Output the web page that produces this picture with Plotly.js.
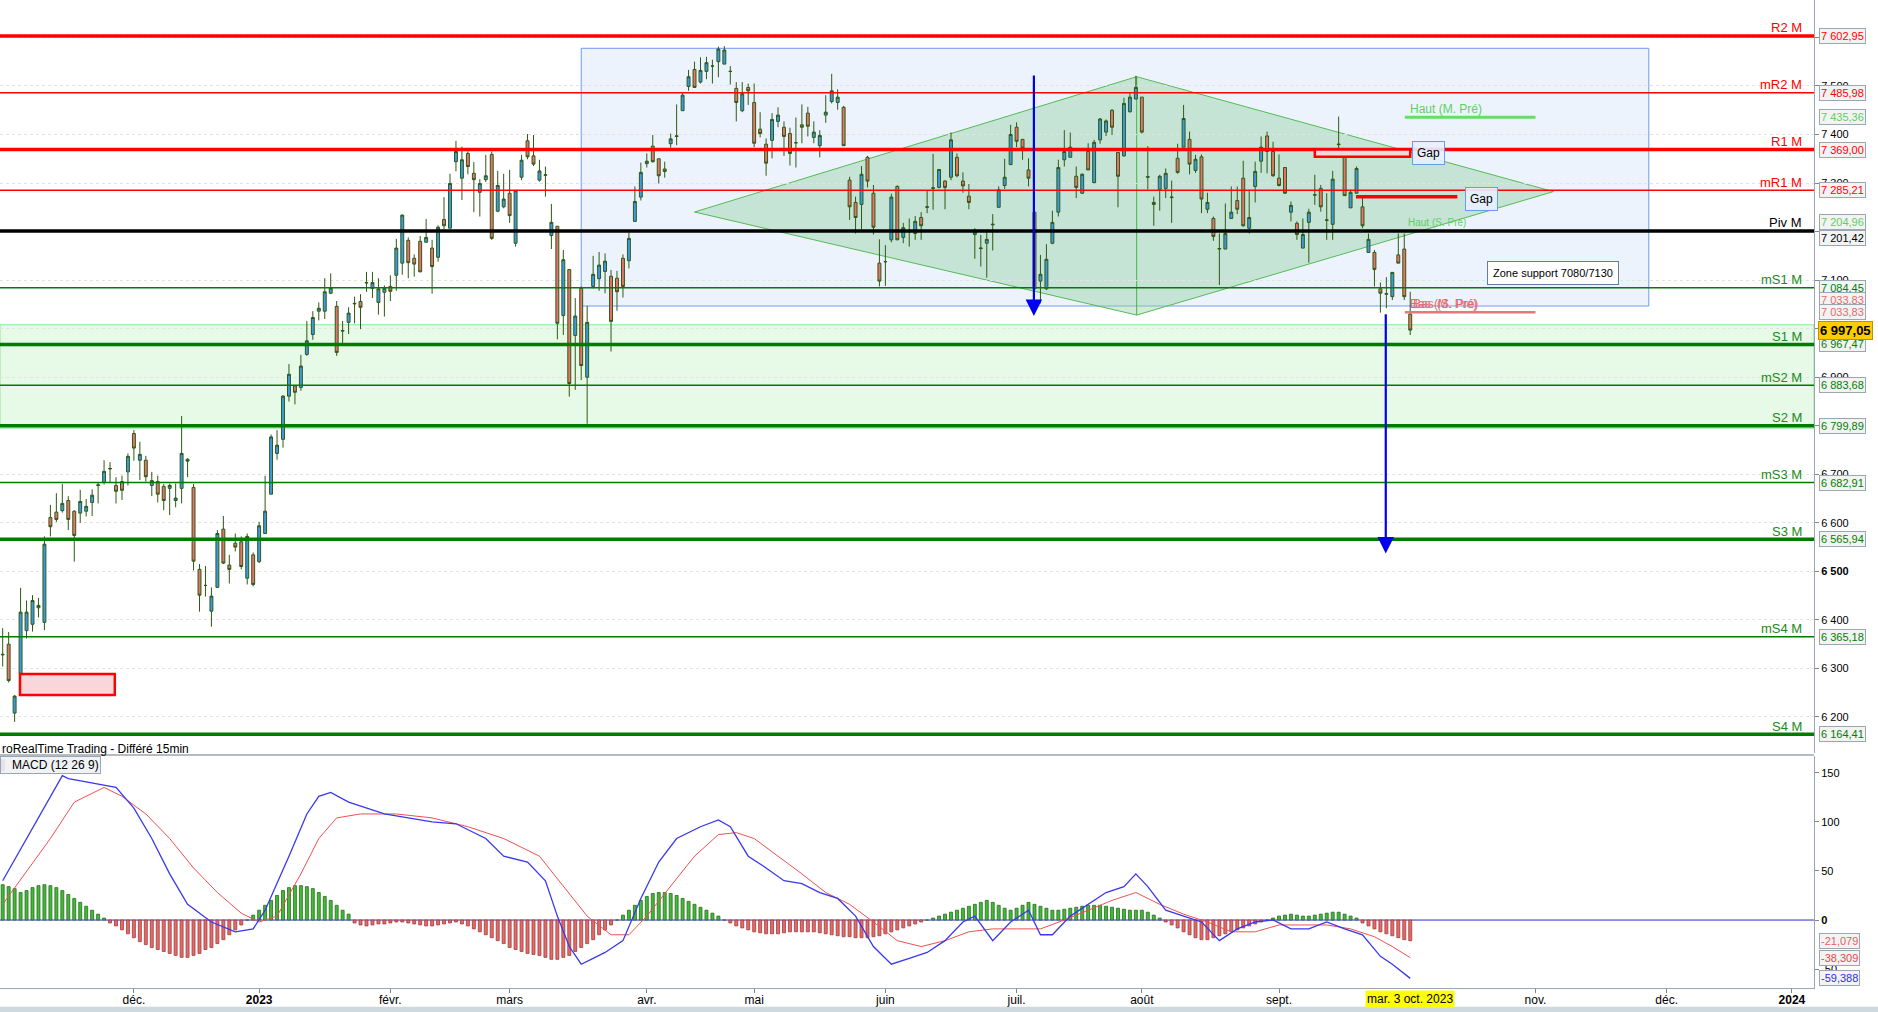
<!DOCTYPE html>
<html><head><meta charset="utf-8">
<script src="https://cdn.plot.ly/plotly-3.0.1.min.js"></script>
<style>html,body{margin:0;padding:0;background:#fff;}#chart{width:1878px;height:1012px;}</style>
</head><body><div id="chart"></div>
<script>
// ---------- DATA ----------
const holidays = ['2022-12-26','2023-04-07','2023-04-10','2023-05-01'];

const openP = [6328,6350,6208,6290,6378,6391,6425,6395,6611,6622,
6625,6646,6624,6620,6624,6642,6677,6683,6711,6677,
6685,6705,6784,6729,6729,6677,6685,6675,6671,6646,
6671,6727,6673,6504,6471,6418,6467,6587,6513,6558,
6561,6486,6534,6520,6578,6659,6743,6772,6861,6882,
6879,6947,6988,7036,7036,7073,7046,6995,7013,7051,
7056,7094,7083,7054,7075,7087,7110,7135,7182,7145,
7180,7178,7166,7147,7225,7207,7344,7310,7361,7320,
7281,7307,7359,7242,7251,7279,7176,7312,7387,7356,
7306,7316,7192,7211,7027,7122,6986,7083,6900,7087,
7103,7118,7108,7104,7145,7140,7221,7271,7340,7376,
7350,7329,7381,7396,7449,7499,7534,7508,7530,7541,
7550,7545,7530,7495,7449,7497,7466,7411,7380,7388,
7427,7415,7402,7383,7420,7444,7394,7377,7440,7468,
7466,7456,7306,7260,7256,7353,7279,7135,7138,7183,
7293,7188,7200,7196,7229,7250,7289,7291,7304,7312,
7353,7304,7273,7194,7165,7176,7214,7250,7295,7338,
7415,7390,7327,7240,7098,7082,7176,7240,7348,7353,
7314,7279,7365,7301,7389,7405,7450,7363,7356,7447,
7473,7477,7312,7256,7287,7289,7270,7351,7374,7390,
7326,7354,7246,7227,7164,7164,7227,7264,7310,7207,
7293,7345,7397,7365,7310,7332,7240,7217,7166,7219,
7275,7289,7223,7215,7379,7361,7249,7279,7251,7157,
7157,7082,7071,7066,7152,7164,7030];

const highP = [6383,6375,6245,6466,6440,6451,6445,6572,6637,6661,
6680,6655,6626,6668,6649,6669,6683,6729,6725,6694,
6697,6743,6791,6767,6738,6705,6697,6680,6681,6681,
6820,6733,6680,6515,6511,6467,6585,6614,6534,6578,
6572,6578,6539,6602,6697,6782,6791,6863,6927,6884,
6946,7016,7036,7054,7104,7114,7057,7016,7044,7066,
7071,7117,7117,7104,7089,7110,7185,7235,7188,7153,
7191,7226,7183,7213,7271,7319,7387,7375,7365,7343,
7308,7358,7365,7325,7319,7327,7286,7358,7401,7399,
7348,7334,7257,7211,7162,7122,7063,7087,7047,7150,
7158,7155,7121,7119,7153,7198,7293,7342,7361,7399,
7350,7344,7402,7462,7485,7533,7550,7559,7560,7554,
7581,7582,7541,7508,7508,7505,7505,7446,7392,7444,
7456,7427,7414,7435,7462,7457,7427,7409,7481,7525,
7493,7459,7313,7272,7335,7356,7296,7184,7172,7278,
7295,7218,7227,7232,7240,7284,7360,7328,7306,7404,
7361,7322,7298,7207,7193,7200,7236,7293,7350,7420,
7425,7390,7351,7240,7152,7174,7243,7348,7409,7404,
7334,7320,7382,7389,7434,7431,7452,7363,7476,7485,
7521,7477,7376,7272,7317,7330,7305,7381,7461,7406,
7358,7359,7280,7231,7196,7258,7293,7293,7346,7286,
7344,7396,7406,7385,7359,7332,7262,7221,7227,7247,
7317,7296,7279,7325,7437,7361,7286,7334,7269,7196,
7162,7095,7106,7116,7196,7196,7076];

const lowP = [6304,6271,6190,6289,6362,6376,6405,6379,6572,6602,
6621,6585,6520,6600,6613,6614,6640,6679,6683,6640,
6647,6677,6728,6688,6685,6655,6642,6626,6616,6632,
6640,6694,6502,6417,6448,6386,6467,6515,6475,6541,
6504,6473,6469,6517,6578,6659,6730,6755,6850,6844,
6872,6944,6977,7017,7020,7071,6944,6970,6989,7011,
6999,7076,7063,7029,7025,7057,7078,7111,7104,7107,
7117,7178,7072,7138,7205,7207,7324,7265,7318,7240,
7231,7302,7183,7240,7248,7218,7169,7306,7349,7335,
7303,7272,7164,6978,6987,6860,6874,6894,6804,7083,
7078,7073,6953,7037,7064,7124,7221,7264,7332,7342,
7299,7311,7373,7378,7449,7490,7497,7505,7514,7505,
7518,7545,7503,7427,7446,7461,7374,7394,7315,7351,
7415,7356,7336,7332,7382,7396,7382,7353,7424,7464,
7451,7377,7224,7196,7205,7291,7194,7087,7088,7178,
7183,7176,7169,7183,7183,7238,7245,7289,7246,7306,
7312,7280,7246,7144,7128,7105,7161,7250,7288,7337,
7374,7348,7293,7080,7052,7080,7174,7231,7334,7353,
7269,7278,7327,7299,7381,7397,7399,7250,7354,7445,
7473,7402,7287,7212,7243,7269,7218,7319,7374,7318,
7321,7238,7238,7181,7090,7164,7226,7236,7210,7196,
7260,7321,7320,7313,7293,7278,7221,7183,7166,7136,
7255,7241,7183,7183,7358,7274,7248,7279,7207,7157,
7087,7033,7042,7059,7135,7059,6987];

const closeP = [6329,6275,6243,6416,6416,6440,6430,6556,6592,6607,
6640,6607,6574,6644,6634,6657,6678,6706,6712,6665,
6667,6737,6754,6741,6695,6687,6659,6646,6677,6651,
6743,6731,6521,6451,6471,6449,6578,6517,6504,6550,
6510,6572,6473,6594,6624,6777,6760,6861,6906,6869,
6923,6975,7023,7042,7076,7084,6951,6996,7032,7052,
7044,7095,7095,7082,7083,7077,7166,7234,7136,7133,
7117,7188,7128,7209,7212,7299,7365,7348,7334,7307,
7299,7315,7186,7295,7267,7233,7284,7347,7354,7339,
7325,7317,7219,7011,7142,6887,7026,6924,7013,7112,
7131,7139,7015,7076,7087,7186,7262,7322,7345,7344,
7315,7324,7391,7397,7481,7519,7497,7532,7548,7541,
7576,7574,7530,7466,7484,7490,7382,7402,7341,7431,
7440,7396,7361,7383,7415,7417,7405,7398,7446,7490,
7477,7377,7251,7229,7318,7304,7209,7098,7138,7271,
7183,7208,7200,7221,7212,7251,7290,7328,7291,7389,
7315,7294,7260,7199,7166,7184,7215,7286,7312,7400,
7386,7372,7310,7082,7112,7143,7219,7332,7365,7374,
7291,7318,7327,7384,7432,7428,7415,7314,7464,7477,
7497,7405,7313,7260,7314,7320,7271,7322,7433,7339,
7349,7267,7260,7190,7165,7196,7240,7246,7212,7229,
7324,7374,7365,7315,7295,7279,7254,7194,7194,7240,
7276,7251,7224,7308,7380,7274,7281,7330,7212,7184,
7122,7073,7072,7116,7135,7066,6997];

// MACD line (candle number, value) and signal line
const macdDay = [1,11,12,17,20,23,26,29,32,36,40,43,45,49,52,54,56,59,65,69,73,77,82,85,89,92,94,96,98,100,102,105,108,111,114,118,121,123,126,129,132,135,138,141,144,147,150,153,156,159,162,164,167,170,173,175,177,180,183,186,189,191,193,196,199,202,205,208,211,214,217,220,223,226,229,232,234,237];
const macdVal = [40,147,144,138,135,114,83,47,16,-2,-12,-9,10,65,108,126,130,120,108,104,100,98,83,65,59,40,4,-27,-45,-39,-33,-21,22,59,83,95,102,95,65,53,40,37,28,22,4,-27,-45,-39,-33,-21,-2,4,-21,-2,10,-15,-15,4,16,28,34,47,34,10,4,-2,-21,-9,-2,0,-9,-9,-2,-9,-15,-37,-45,-59.388];
const sigDay = [1,9,13,18,21,25,29,33,37,41,44,47,51,54,57,61,67,73,79,85,91,95,99,103,106,109,113,117,121,124,127,131,135,139,143,147,151,155,159,163,167,171,175,179,183,187,191,195,199,203,207,211,215,219,223,227,231,234,237];
const sigVal = [16,83,120,135,126,108,83,53,28,7,-2,4,47,83,104,108,108,104,95,83,65,34,4,-15,-15,4,34,65,87,89,83,65,47,28,16,-2,-21,-27,-21,-12,-9,-9,-9,0,10,20,28,16,6,-2,-12,-12,-5,-5,-5,-9,-17,-27,-38.309];
const histVal = [36,34,32, 28,30,33,35,36, 35,33,30,26,22,18, 14,10,6,2,
-3,-6,-10,-14,-18,-22,-25, -28,-30,-32,-34,-36,-38,-38,-36, -34,-30,-28,-24,-20,-15,-10,
-5,0,5,10, 15,20,25,30,33,35,35,34, 32,28,24,20,15,10,6,
-3,-5,-6,-5,-4,-4,-3,-2,-2,-3,-4,-5,-6,-6,-5,-4,-3,-2,
-4,-6,-9,-12,-15,-18,-21,-24,-28,-30,-32,-34,-35,-36,-38,-40,
-40,-38,-36,-32,-28,-24,-20,-15,-10,-5,0,
5,10,15,20,24,27,28,28,27,25,22,19,16,13,10,7,4,
0,-3,-6,-8,-10,-12,-13,-14,-14,-14,-13,-12,-12,-12,-12,-12,-13,-14,-15,-16,-17,-17,-18,-18,-18,-17,-16,
-14,-12,-10,-8,-6,-4,-2,0,2,4,6,8,10,12,14,
16,18,20,18,15,12,10,12,15,18,16,14,
12,10,10,11,12,13,14,15,15,15,14,13,12,11,10,10,10,8,
5,2,-2,-5,-8,-12,-15,-18,-20,-20,-18,-16,-14,-12,-10,-8,-6,
-4,-2,0,2,4,5,6,5,4,4,5,6,7,8,8,6,4,
2,-3,-6,-9,-12,-14,-16,-18,-20,-21.079];

// Monthly pivot levels
const levelNames  = ['R2 M','mR2 M','R1 M','mR1 M','Piv M','mS1 M','S1 M','mS2 M','S2 M','mS3 M','S3 M','mS4 M','S4 M'];
const levelValues = [7602.95,7485.98,7369.00,7285.21,7201.42,7084.45,6967.47,6883.68,6799.89,6682.91,6565.94,6365.18,6164.41];
const levelKinds  = ['R','mR','R','mR','P','mS','S','mS','S','mS','S','mS','S'];

// Other marked levels (previous month / week highs and lows)
const hautMPre = 7435.36, hautSPre = 7204.96, basMPre = 7033.83, basSPre = 7033.83;
const lastPrice = 6997.05;
const macdLast = [-21.079, -38.309, -59.388];   // histogram, signal, MACD

// Drawn objects (trading-day index from 1 Nov 2022, price)
const zoneBand   = [6795, 7008];
const blueBox    = [97.0, 276.0, 7046.7, 7577.6];
const diamondIdx = [116.0, 190.14, 260.0, 190.14];
const diamondVal = [7240.4, 7519.1, 7282.4, 7028.0];
const arrowA     = [172.9, 7524.7, 7026.0];
const arrowB     = [231.9, 7033.0, 6537.0];
const gapBox1    = [2.9, 18.8, 6245.3, 6288.6];
const gapBox2    = [220.0, 236.0, 7354.0, 7369.0];
const gapBar2    = [226.9, 243.9, 7268.0, 7275.5];

const tickDates  = ['2022-12-01','2023-01-02','2023-02-01','2023-03-01','2023-04-03','2023-05-02','2023-06-01','2023-07-03','2023-08-01','2023-09-01','2023-11-01','2023-12-01','2024-01-01'];
const tickLabels = ['déc.','<b>2023</b>','févr.','mars','avr.','mai','juin','juil.','août','sept.','nov.','déc.','<b>2024</b>'];
const priceTicks = [6200,6300,6400,6500,6600,6700,6800,6900,7000,7100,7200,7300,7400,7500,7600];
const hiddenTicks = [6800,7000,7200,7600];   // fully covered by the value boxes
const macdTicks  = [150,100,50,0,-50];

// ---------- helpers ----------
const DAY = 86400000;
const allDays = (function(){
  const out=[]; let t=Date.UTC(2022,10,1);
  while(out.length<340){
    const d=new Date(t), w=d.getUTCDay(), s=d.toISOString().slice(0,10);
    if(w!==0 && w!==6 && holidays.indexOf(s)<0) out.push(t);
    t+=DAY;
  }
  return out;
})();
function td(f, sep){
  const i=Math.floor(f);
  const base = i<0 ? allDays[0]+i*DAY : allDays[i];
  const iso=new Date(base+(f-i)*DAY).toISOString();
  return iso.slice(0,10)+(sep||' ')+iso.slice(11,19);
}
const dates = allDays.slice(0, openP.length).map(t=>new Date(t).toISOString().slice(0,10));
function fr(v,d){
  const s=v<0?'-':''; const a=Math.abs(v).toFixed(d).split('.');
  return s+a[0].replace(/\B(?=(\d{3})+(?!\d))/g,' ')+(a[1]?','+a[1]:'');
}
const FONT = 'Arial, "Liberation Sans", sans-serif';
const RED='#ff0000', GRN='#008000', LGRN='#5fcf5f', SALMON='#e66b6b';
const kindStyle = {R:{c:RED,w:3.5,t:RED}, mR:{c:RED,w:1.5,t:RED}, P:{c:'#000',w:3.5,t:'#000'},
                   S:{c:'#007a00',w:3.5,t:'#1a8a1a'}, mS:{c:'#007a00',w:1.5,t:'#1a8a1a'}};

// ---------- traces ----------
const traces = [
  {type:'bar', x:dates, y:histVal, xaxis:'x', yaxis:'y2', width:0.5*DAY,
   marker:{color:histVal.map(v=>v>=0?'#3fba3a':'#e46a6a'), line:{color:histVal.map(v=>v>=0?'#2b6b1b':'#a33a3a'), width:0.8}},
   hoverinfo:'skip', showlegend:false},
  {type:'scatter', mode:'lines', x:sigDay.map(d=>dates[d-1]), y:sigVal, xaxis:'x', yaxis:'y2',
   line:{color:'#f05050', width:1}, hoverinfo:'skip', showlegend:false},
  {type:'scatter', mode:'lines', x:macdDay.map(d=>dates[d-1]), y:macdVal, xaxis:'x', yaxis:'y2',
   line:{color:'#3838f0', width:1.3}, hoverinfo:'skip', showlegend:false},
  {type:'candlestick', x:dates, open:openP, high:highP, low:lowP, close:closeP, xaxis:'x', yaxis:'y',
   increasing:{line:{color:'#2e5a14', width:1}, fillcolor:'#3a9ae8'},
   decreasing:{line:{color:'#2e5a14', width:1}, fillcolor:'#e8736c'},
   whiskerwidth:0, hoverinfo:'skip', showlegend:false}
];

// ---------- shapes ----------
const shapes = [];
shapes.push({type:'rect', xref:'paper', x0:0, x1:1, yref:'y', y0:zoneBand[0], y1:zoneBand[1],
  fillcolor:'#e7f9e7', line:{color:'#8fe88f', width:1}, layer:'below'});
shapes.push({type:'rect', xref:'x', x0:td(blueBox[0]), x1:td(blueBox[1]), yref:'y', y0:blueBox[2], y1:blueBox[3],
  fillcolor:'rgba(225,235,252,0.6)', line:{color:'#6d9cf0', width:1}, layer:'below'});
let p='';
for(let k=0;k<4;k++) p += (k?'L':'M')+td(diamondIdx[k],'_')+','+diamondVal[k];
shapes.push({type:'path', xref:'x', yref:'y', path:p+'Z', fillcolor:'rgba(150,210,165,0.45)',
  line:{color:'#55bb55', width:1}, layer:'below'});
shapes.push({type:'line', xref:'x', yref:'y', x0:td(diamondIdx[1]), x1:td(diamondIdx[1]), y0:diamondVal[3], y1:diamondVal[1],
  line:{color:'#3cb83c', width:1}, layer:'below'});
levelValues.forEach((v,i)=>{
  const s=kindStyle[levelKinds[i]];
  shapes.push({type:'line', xref:'paper', x0:0, x1:1, yref:'y', y0:v, y1:v, line:{color:s.c, width:s.w}, layer:'above'});
});
// gap boxes
shapes.push({type:'rect', xref:'x', yref:'y', x0:td(gapBox1[0]), x1:td(gapBox1[1]), y0:gapBox1[2], y1:gapBox1[3],
  fillcolor:'#f8d6d9', line:{color:RED, width:2.5}, layer:'above'});
shapes.push({type:'rect', xref:'x', yref:'y', x0:td(gapBox2[0]), x1:td(gapBox2[1]), y0:gapBox2[2], y1:gapBox2[3],
  fillcolor:'#efd9d9', line:{color:RED, width:2.5}, layer:'above'});
shapes.push({type:'rect', xref:'x', yref:'y', x0:td(gapBar2[0]), x1:td(gapBar2[1]), y0:gapBar2[2], y1:gapBar2[3],
  fillcolor:RED, line:{width:0}, layer:'above'});
// previous month high / low lines
shapes.push({type:'line', xref:'x', yref:'y', x0:td(235.1), x1:td(257), y0:hautMPre, y1:hautMPre, line:{color:'#66dd66', width:3}, layer:'above'});
shapes.push({type:'line', xref:'x', yref:'y', x0:td(235.1), x1:td(257), y0:basMPre, y1:basMPre, line:{color:'#e47878', width:2.5}, layer:'above'});
// MACD zero line
shapes.push({type:'line', xref:'paper', x0:0, x1:1, yref:'y2', y0:0, y1:0, line:{color:'#2a2ad0', width:1}, layer:'below'});
// panel separator
shapes.push({type:'line', xref:'paper', x0:0, x1:1, yref:'paper', y0:0.2358, y1:0.2358, line:{color:'#9aa6b0', width:1.5}});
// MACD legend color marks
shapes.push({type:'rect', xref:'paper', yref:'paper', x0:0.0003, x1:0.0016, y0:0.2195, y1:0.2315, fillcolor:'#4848e8', line:{width:0}});
shapes.push({type:'rect', xref:'paper', yref:'paper', x0:0.0016, x1:0.0028, y0:0.2195, y1:0.2315, fillcolor:'#e84848', line:{width:0}});
// window bottom strip
shapes.push({type:'rect', xref:'paper', yref:'paper', x0:0, x1:1.0353, y0:-0.0243, y1:-0.0190, fillcolor:'#cdd8df', line:{width:0}});

// ---------- annotations ----------
const ann = [];
levelNames.forEach((n,i)=>{
  const s=kindStyle[levelKinds[i]];
  ann.push({xref:'paper', x:1, xanchor:'right', xshift:-10, yref:'y', y:levelValues[i], yanchor:'bottom', yshift:-1.5,
    text:n, showarrow:false, font:{family:FONT, size:13, color:s.t}});
});
const boxVals   = [7602.95,7485.98,hautMPre,7369.00,7285.21,hautSPre,7201.42,7084.45,basSPre,basMPre,6967.47,6883.68,6799.89,6682.91,6565.94,6365.18,6164.41];
const boxColors = [RED,RED,LGRN,RED,RED,LGRN,'#000',GRN,SALMON,SALMON,GRN,GRN,GRN,GRN,GRN,GRN,GRN];
const boxShift  = [0,0,0,0,0,7,-7,0,12,0,0,0,0,0,0,0,0];
boxVals.forEach((v,i)=>{
  ann.push({xref:'paper', x:1, xanchor:'left', xshift:5, yref:'y', y:v, yanchor:'middle', yshift:boxShift[i],
    text:fr(v,2), showarrow:false, font:{family:FONT, size:11, color:boxColors[i]},
    bgcolor:'#f3f3f3', bordercolor:'#9aa6b0', borderwidth:1, borderpad:1});
});
ann.push({xref:'paper', x:1, xanchor:'left', xshift:4, yref:'y', y:lastPrice, yanchor:'middle',
  text:'<b>'+fr(lastPrice,2)+'</b>', showarrow:false, font:{family:FONT, size:13, color:'#000'},
  bgcolor:'#ffcc00', bordercolor:'#c09000', borderwidth:1, borderpad:1});
const macdColors = ['#e86060','#e84848','#3030e0'];
macdLast.forEach((v,i)=>{
  ann.push({xref:'paper', x:1, xanchor:'left', xshift:5, yref:'y2', y:v, yanchor:'middle',
    text:fr(v,3), showarrow:false, font:{family:FONT, size:11, color:macdColors[i]},
    bgcolor:'#f3f3f3', bordercolor:'#9aa6b0', borderwidth:1, borderpad:1});
});
// arrows
[arrowA, arrowB].forEach(a=>{
  ann.push({xref:'x', yref:'y', axref:'x', ayref:'y', x:td(a[0]), y:a[2], ax:td(a[0]), ay:a[1],
    showarrow:true, arrowhead:2, arrowsize:1.5, arrowwidth:2.2, arrowcolor:'#0000ee', text:''});
});
// texts
ann.push({xref:'x', yref:'y', x:td(235.7), y:7452, xanchor:'left', yanchor:'middle', text:'Haut (M. Pré)', showarrow:false, font:{family:FONT, size:12, color:LGRN}});
ann.push({xref:'x', yref:'y', x:td(235.3), y:7219, xanchor:'left', yanchor:'middle', text:'Haut (S. Pré)', showarrow:false, font:{family:FONT, size:10, color:LGRN}});
ann.push({xref:'x', yref:'y', x:td(235.7), y:7051, xanchor:'left', yanchor:'middle', text:'Bas (M. Pré)', showarrow:false, font:{family:FONT, size:12, color:SALMON}});
ann.push({xref:'x', yref:'y', x:td(236.2), y:7051, xanchor:'left', yanchor:'middle', text:'Bas (S. Pré)', showarrow:false, font:{family:FONT, size:12, color:SALMON}});
ann.push({xref:'x', yref:'y', x:td(239), y:7362, xanchor:'center', yanchor:'middle', text:'Gap', showarrow:false,
  font:{family:FONT, size:12, color:'#000'}, bgcolor:'rgba(232,240,255,0.9)', bordercolor:'#6a9bea', borderwidth:1, borderpad:4});
ann.push({xref:'x', yref:'y', x:td(247.9), y:7267, xanchor:'center', yanchor:'middle', text:'Gap', showarrow:false,
  font:{family:FONT, size:12, color:'#000'}, bgcolor:'rgba(232,240,255,0.9)', bordercolor:'#6a9bea', borderwidth:1, borderpad:4});
ann.push({xref:'x', yref:'y', x:td(259.9), y:7114.7, xanchor:'center', yanchor:'middle', text:'Zone support 7080/7130', showarrow:false,
  font:{family:FONT, size:11, color:'#000'}, bgcolor:'#ffffff', bordercolor:'#5f7fa0', borderwidth:1, borderpad:5});
ann.push({xref:'paper', yref:'paper', x:0, y:0.2419, xanchor:'left', yanchor:'middle', text:'roRealTime Trading - Différé 15min',
  showarrow:false, font:{family:FONT, size:12, color:'#000'}});
ann.push({xref:'paper', yref:'paper', x:0, y:0.2262, xanchor:'left', yanchor:'middle', text:'&nbsp;&nbsp;&nbsp;MACD (12 26 9)',
  showarrow:false, font:{family:FONT, size:12, color:'#000'}, bgcolor:'rgba(238,241,244,0.9)', bordercolor:'#9aa6b0', borderwidth:1, borderpad:1});
ann.push({xref:'x', yref:'paper', x:dates[dates.length-1], y:-0.0116, xanchor:'center', yanchor:'middle', text:'mar. 3 oct. 2023',
  showarrow:false, font:{family:FONT, size:12, color:'#000'}, bgcolor:'#ffff00', borderpad:1});

// ---------- layout ----------
const axisCommon = {ticks:'outside', ticklen:4, tickcolor:'#7a8690', showline:true, linecolor:'#9aa6b0', zeroline:false, fixedrange:true};
const layout = {
  width:1878, height:1012, margin:{l:0, r:64, t:0, b:24},
  paper_bgcolor:'#ffffff', plot_bgcolor:'#ffffff', showlegend:false,
  font:{family:FONT, size:11, color:'#000'},
  xaxis:Object.assign({type:'date', range:[td(-0.45), td(303.7)],
    rangebreaks:[{bounds:['sat','mon']}, {values:holidays}],
    rangeslider:{visible:false}, anchor:'y2', tickmode:'array', tickvals:tickDates, ticktext:tickLabels,
    ticklabelstandoff:-3,
    showgrid:false, tickfont:{family:FONT, size:12, color:'#000'}}, axisCommon),
  yaxis:Object.assign({domain:[0.2379,1], range:[6125.9,7677.1], side:'right', anchor:'x',
    tickmode:'array', tickvals:priceTicks,
    ticktext:priceTicks.map(v=>hiddenTicks.indexOf(v)>=0?'':(v===6500?'<b>6 500</b>':fr(v,0))),
    showgrid:true, gridcolor:'#e2e2e2', griddash:'dot', tickfont:{family:FONT, size:11, color:'#000'}}, axisCommon),
  yaxis2:Object.assign({domain:[0,0.2348], range:[-69.2,167], side:'right', anchor:'x',
    tickmode:'array', tickvals:macdTicks, ticktext:macdTicks.map(v=>v===0?'<b>0</b>':String(v)),
    showgrid:false, tickfont:{family:FONT, size:11, color:'#000'}}, axisCommon),
  shapes:shapes, annotations:ann
};
Plotly.newPlot('chart', traces, layout, {staticPlot:true, displayModeBar:false});
</script></body></html>
